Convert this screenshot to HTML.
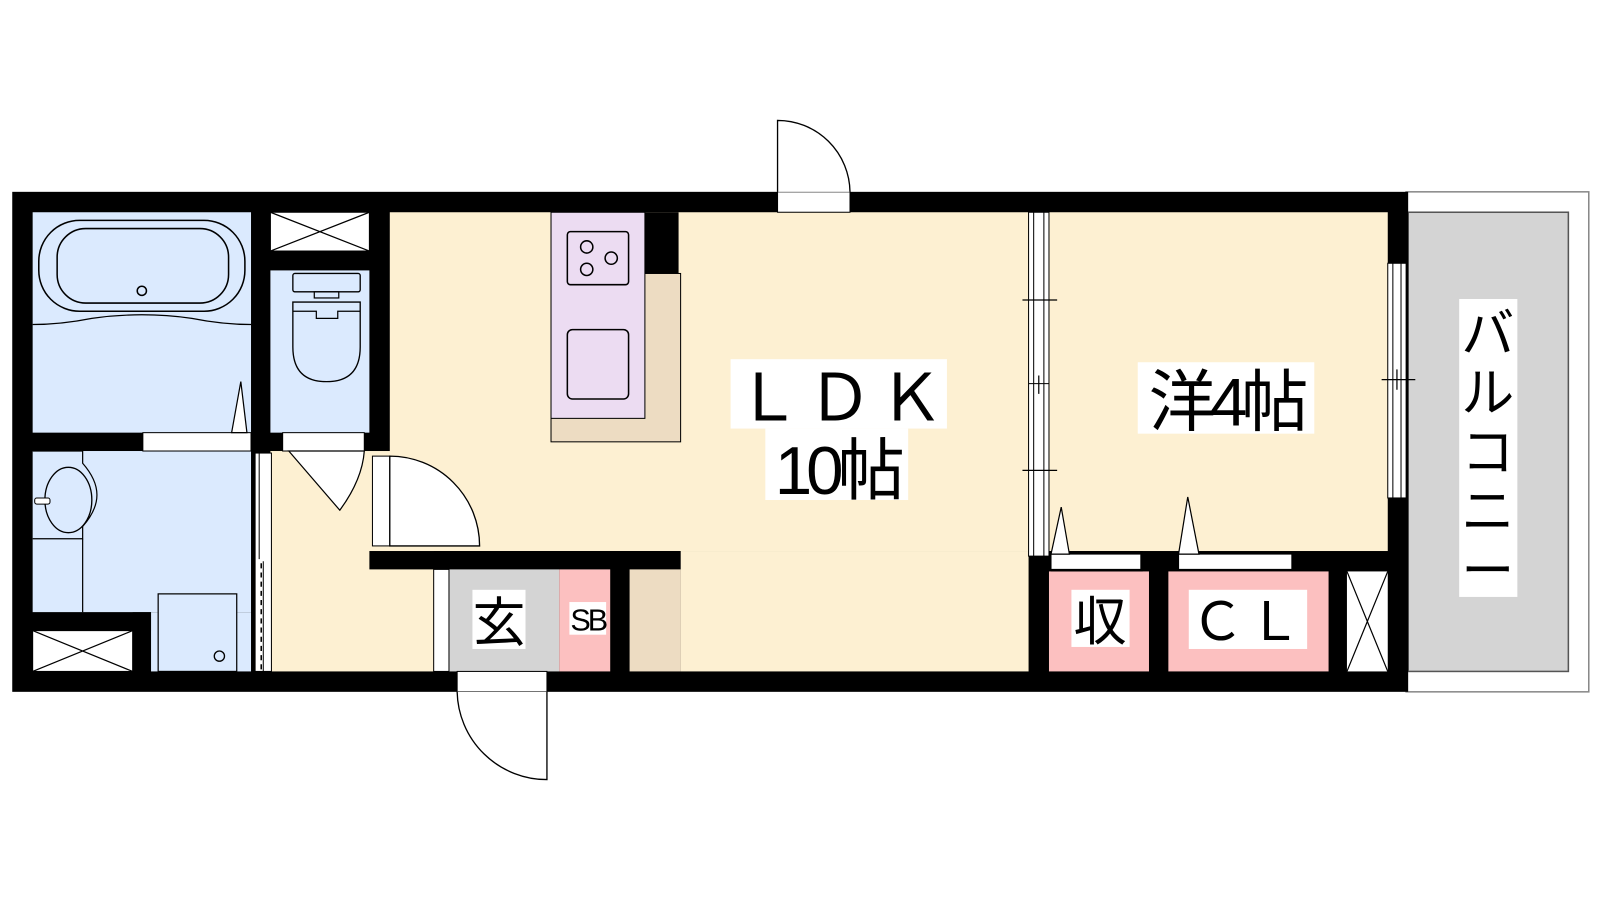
<!DOCTYPE html>
<html><head><meta charset="utf-8"><style>
html,body{margin:0;padding:0;background:#fff;}
svg{display:block;}
text{font-family:"Liberation Sans","Noto Sans CJK JP",sans-serif;}
</style></head><body>
<svg width="1600" height="900" viewBox="0 0 1568 882" xmlns="http://www.w3.org/2000/svg">
<rect x="1378" y="188" width="179" height="490" fill="#fff" stroke="#888" stroke-width="1.5"/>
<rect x="1380" y="208" width="157" height="450" fill="#d4d4d4" stroke="#555" stroke-width="1.5"/>
<rect x="12" y="188" width="1368" height="490" fill="#000"/>
<rect x="32" y="208" width="214" height="216" fill="#dbeafe"/>
<rect x="265" y="265" width="97" height="159" fill="#dbeafe"/>
<rect x="265" y="208" width="97" height="38" fill="#fff"/>
<rect x="32" y="442" width="214" height="158" fill="#dbeafe"/>
<rect x="148" y="600" width="98" height="58" fill="#dbeafe"/>
<rect x="32" y="618" width="98" height="40" fill="#fff"/>
<rect x="265" y="442" width="160" height="216" fill="#fdf0d2"/>
<rect x="382" y="208" width="626" height="332" fill="#fdf0d2"/>
<rect x="667" y="540" width="341" height="118" fill="#fdf0d2"/>
<rect x="1028" y="208" width="332" height="332" fill="#fdf0d2"/>
<rect x="540" y="268" width="127" height="165" fill="#eddcc2" stroke="#000" stroke-width="1"/>
<rect x="632" y="208" width="33" height="60" fill="#000"/>
<rect x="540" y="208" width="92" height="202" fill="#ecdcf2" stroke="#000" stroke-width="1"/>
<rect x="556" y="227" width="60" height="52" rx="3" fill="none" stroke="#000" stroke-width="1.5"/>
<circle cx="575" cy="242" r="6" fill="none" stroke="#000" stroke-width="1.5"/>
<circle cx="599" cy="253" r="6" fill="none" stroke="#000" stroke-width="1.5"/>
<circle cx="575" cy="264" r="6" fill="none" stroke="#000" stroke-width="1.5"/>
<rect x="556" y="323" width="60" height="68" rx="5" fill="none" stroke="#000" stroke-width="1.5"/>
<rect x="362" y="540" width="305" height="18" fill="#000"/>
<rect x="440" y="558" width="108" height="100" fill="#d4d4d4"/>
<rect x="425" y="558" width="15" height="100" fill="#fff" stroke="#000" stroke-width="1"/>
<rect x="548" y="558" width="50" height="100" fill="#fcc0c0"/>
<rect x="617" y="558" width="50" height="100" fill="#eddcc2"/>
<rect x="1028" y="560" width="98" height="98" fill="#fcc0c0"/>
<rect x="1145" y="560" width="157" height="98" fill="#fcc0c0"/>
<rect x="1320" y="560" width="40" height="98" fill="#fff"/>
<path d="M1320 560 L1360 658 M1360 560 L1320 658" stroke="#000" stroke-width="1.2"/>
<rect x="38" y="216" width="202" height="89" rx="40" fill="none" stroke="#000" stroke-width="1.5"/>
<rect x="56" y="224" width="168" height="73" rx="28" fill="none" stroke="#000" stroke-width="1.5"/>
<circle cx="139" cy="285" r="4.5" fill="none" stroke="#000" stroke-width="1.5"/>
<path d="M32 318 Q60 318 90 312 Q139 305 188 312 Q218 318 246 318" fill="none" stroke="#000" stroke-width="1.2"/>
<rect x="140" y="424" width="106" height="18" fill="#fff" stroke="#000" stroke-width="1"/>
<path d="M227 424 L236 374 L242 424 Z" fill="#fff" stroke="#000" stroke-width="1.2"/>
<path d="M265 208 L362 246 M362 208 L265 246" stroke="#000" stroke-width="1.2"/>
<rect x="265" y="208" width="97" height="38" fill="none" stroke="#000" stroke-width="1"/>
<path d="M32 618 L130 658 M130 618 L32 658" stroke="#000" stroke-width="1.2"/>
<rect x="32" y="618" width="98" height="40" fill="none" stroke="#000" stroke-width="1"/>
<rect x="287" y="268" width="66" height="18" rx="2" fill="none" stroke="#000" stroke-width="1.3"/>
<rect x="308" y="286" width="24" height="6" fill="none" stroke="#000" stroke-width="1.2"/>
<path d="M287 296 L353 296 L353 340 Q353 374 320 374 Q287 374 287 340 Z" fill="none" stroke="#000" stroke-width="1.3"/>
<path d="M287 305 L310 305 L310 312 L331 312 L331 305 L353 305" fill="none" stroke="#000" stroke-width="1.2"/>
<rect x="277" y="424" width="80" height="18" fill="#fff" stroke="#000" stroke-width="1"/>
<path d="M283 442 L333 500 Q355 470 357 442 Z" fill="#fff" stroke="#000" stroke-width="1.2"/>
<path d="M32 442 L81 442 L81 454 Q95 470 95 485 Q95 500 81 516 L81 528 L32 528" fill="none" stroke="#000" stroke-width="1.2"/>
<ellipse cx="67" cy="490" rx="23" ry="32" fill="none" stroke="#000" stroke-width="1.3"/>
<rect x="34" y="488" width="15" height="6" rx="2" fill="#fff" stroke="#000" stroke-width="1"/>
<path d="M81 528 L81 600" stroke="#000" stroke-width="1.2"/>
<rect x="130" y="600" width="18" height="58" fill="#000"/>
<rect x="32" y="600" width="116" height="18" fill="#000"/>
<rect x="155" y="582" width="77" height="76" fill="#dbeafe" stroke="#000" stroke-width="1.2"/>
<circle cx="215" cy="643" r="5" fill="none" stroke="#000" stroke-width="1.3"/>
<rect x="250" y="444" width="16" height="214" fill="#fff" stroke="#000" stroke-width="1"/>
<path d="M254 444 L254 548 M258 550 L258 658" stroke="#000" stroke-width="1"/>
<path d="M256 552 L256 656" stroke="#000" stroke-width="1.5" stroke-dasharray="5 4"/>
<rect x="365" y="447" width="17" height="88" fill="#fff" stroke="#000" stroke-width="1"/>
<path d="M382 447 A88 88 0 0 1 470 535 L382 535 Z" fill="#fff" stroke="#000" stroke-width="1.3"/>
<rect x="762" y="188" width="71" height="20" fill="#fff" stroke="#000" stroke-width="1"/>
<path d="M762 188 L762 118 A71 71 0 0 1 833 188" fill="#fff" stroke="#000" stroke-width="1.3"/>
<rect x="448" y="658" width="88" height="20" fill="#fff" stroke="#000" stroke-width="1"/>
<path d="M448 678 A88 88 0 0 0 536 764 L536 678" fill="#fff" stroke="#000" stroke-width="1.3"/>
<rect x="1008" y="208" width="20" height="337" fill="#fff" stroke="#000" stroke-width="1"/>
<path d="M1013 208 L1013 545 M1023 208 L1023 545 M1008 376 L1028 376" stroke="#000" stroke-width="1"/>
<path d="M1002 294 L1036 294 M1002 461 L1036 461 M1018 368 L1018 386" stroke="#000" stroke-width="1.2"/>
<rect x="1360" y="258" width="18" height="230" fill="#fff" stroke="#000" stroke-width="1"/>
<path d="M1365 258 L1365 488 M1373 258 L1373 488" stroke="#000" stroke-width="1"/>
<path d="M1354 372 L1387 372 M1369 362 L1369 382" stroke="#000" stroke-width="1.2"/>
<rect x="1030" y="540" width="90" height="20" fill="#000"/>
<rect x="1030" y="543" width="88" height="15" fill="#fff" stroke="#000" stroke-width="1"/>
<rect x="1155" y="543" width="111" height="15" fill="#fff" stroke="#000" stroke-width="1"/>
<path d="M1030 543 L1040 497 L1048 543 Z" fill="#fff" stroke="#000" stroke-width="1.2"/>
<path d="M1155 543 L1164 487 L1175 543 Z" fill="#fff" stroke="#000" stroke-width="1.2"/>
<rect x="716" y="352" width="212" height="68" fill="#fff"/>
<text x="826" y="412" font-size="64" text-anchor="middle" letter-spacing="6">ＬＤＫ</text>
<rect x="750" y="420" width="140" height="70" fill="#fff"/>
<text x="820" y="484" font-size="66" text-anchor="middle" letter-spacing="-6">10帖</text>
<rect x="1115" y="355" width="173" height="70" fill="#fff"/>
<text x="1201" y="417" font-size="66" text-anchor="middle" letter-spacing="-6">洋4帖</text>
<rect x="1430" y="293" width="57" height="292" fill="#fff"/>
<text x="1458" y="345" font-size="52" text-anchor="middle">バ</text>
<text x="1458" y="403" font-size="52" text-anchor="middle">ル</text>
<text x="1458" y="461" font-size="52" text-anchor="middle">コ</text>
<text x="1458" y="519" font-size="52" text-anchor="middle">ニ</text>
<text x="1458" y="577" font-size="52" text-anchor="middle">ー</text>
<rect x="463" y="578" width="52" height="58" fill="#fff"/>
<text x="489" y="628" font-size="52" text-anchor="middle">玄</text>
<rect x="558" y="590" width="36" height="32" fill="#fff"/>
<text x="576" y="618" font-size="30" text-anchor="middle" letter-spacing="-3">SB</text>
<rect x="1050" y="578" width="57" height="56" fill="#fff"/>
<text x="1078" y="627" font-size="52" text-anchor="middle">収</text>
<rect x="1165" y="578" width="116" height="58" fill="#fff"/>
<text x="1223" y="627" font-size="52" text-anchor="middle" letter-spacing="4">ＣＬ</text>
</svg>
</body></html>
